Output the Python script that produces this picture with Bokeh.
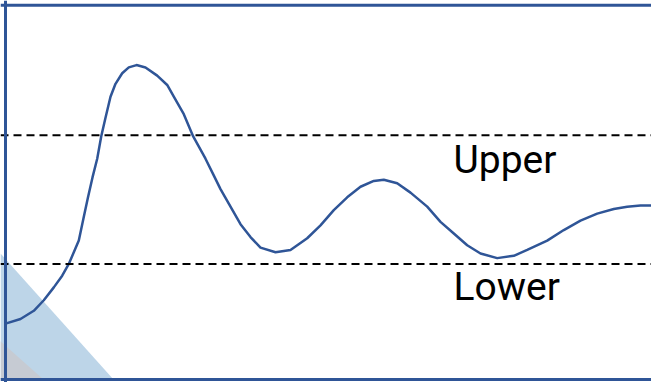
from bokeh.plotting import figure
from bokeh.models import Range1d, Span, ColumnDataSource
from bokeh.core.properties import value
from bokeh.embed import file_html
from bokeh.resources import INLINE

# Response curve (time, value)
time = [0, 15, 28.3, 38.3, 48.3, 56.7, 63.3, 68.3, 73.3, 78, 82.5, 87, 91.7, 95.7, 100,
        105, 110, 116.7, 123.3, 131, 140, 151.7, 161.7, 168.3, 178.3, 187.7, 200, 207.5,
        215, 225, 235, 245, 255, 270, 285, 301.7, 315, 328.3, 341.7, 355, 368.3, 378.3,
        391.7, 405, 421.7, 435, 448.3, 461.7, 475, 491.7, 508.3, 521.7, 541.7, 558.3,
        575, 591.7, 608.3, 621.7, 635, 646]
response = [-0.01, 0.03, 0.10, 0.19, 0.30, 0.40, 0.50, 0.60, 0.70, 0.89, 1.07, 1.24, 1.40,
            1.59, 1.75, 1.93, 2.04, 2.13, 2.18, 2.20, 2.18, 2.11, 2.03, 1.93, 1.78, 1.59,
            1.40, 1.27, 1.14, 0.99, 0.84, 0.73, 0.64, 0.60, 0.62, 0.72, 0.83, 0.96, 1.07,
            1.16, 1.21, 1.22, 1.19, 1.11, 0.99, 0.86, 0.76, 0.66, 0.59, 0.55, 0.57, 0.62,
            0.70, 0.79, 0.87, 0.93, 0.97, 0.99, 1.00, 1.00]

# Limits
limit_names = ["Upper", "Lower"]
limit_values = [1.6, 0.5]
label_time = [448, 448]
label_value = [1.39, 0.305]

# Decorative triangles (time, value)
blue_tri_t = [-5, 108, -5]
blue_tri_v = [0.59, -0.487, -0.487]
grey_tri_t = [-5, 38, -5]
grey_tri_v = [-0.16, -0.487, -0.487]

# Frame edges
frame_left = 0
frame_top = 2.712
frame_bottom = -0.487

BLUE = "#2f5597"

p = figure(width=651, height=382, output_backend="svg", toolbar_location=None,
           x_range=Range1d(-5, 646), y_range=Range1d(-0.513, 2.752),
           min_border=0, min_border_left=0, min_border_right=0,
           min_border_top=0, min_border_bottom=0)
p.axis.visible = False
p.grid.visible = False
p.outline_line_color = None
p.background_fill_color = "white"
p.border_fill_color = "white"

p.patch(blue_tri_t, blue_tri_v, fill_color="#bdd5e8", line_color=None)
p.patch(grey_tri_t, grey_tri_v, fill_color="#c6cbd3", line_color=None)

for v in limit_values:
    p.add_layout(Span(location=v, dimension="width", line_color="black",
                      line_width=2, line_dash="8 5"))

p.line(time, response, line_color=BLUE, line_width=2.5, line_join="round")

src = ColumnDataSource(dict(x=label_time, y=label_value, t=limit_names))
p.text(x="x", y="y", text="t", source=src, text_font=value("Roboto"),
       text_font_size="39px", text_color="black", text_baseline="alphabetic",
       text_align="left")

p.add_layout(Span(location=frame_left, dimension="height", line_color=BLUE, line_width=3))
p.add_layout(Span(location=frame_top, dimension="width", line_color=BLUE, line_width=3))
p.add_layout(Span(location=frame_bottom, dimension="width", line_color=BLUE, line_width=3))

open("out.html", "w").write(file_html(p, INLINE))
